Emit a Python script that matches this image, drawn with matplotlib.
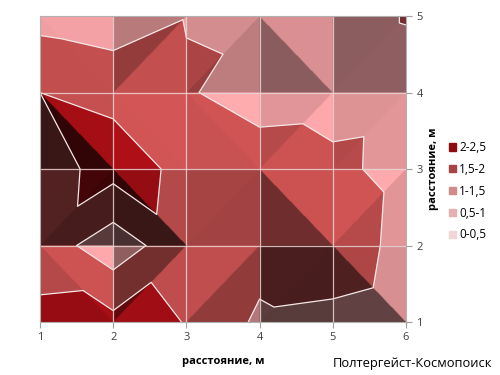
import numpy as np
import matplotlib
matplotlib.use('Agg')
import matplotlib.pyplot as plt
import matplotlib.tri as mtri

plt.rcParams['font.family'] = ['Open Sans', 'DejaVu Sans']

# grid of measured values (rows: y = 1..5, columns: x = 1..6)
x_vals = [1, 2, 3, 4, 5, 6]
y_vals = [1, 2, 3, 4, 5]
z_vals = [
    [2.11, 2.14, 1.99, 1.41, 1.34, 1.20],   # y = 1
    [1.80, 1.20, 1.87, 1.71, 1.87, 1.30],   # y = 2
    [1.77, 2.19, 1.90, 1.79, 1.61, 1.34],   # y = 3
    [2.00, 1.90, 1.55, 1.26, 1.30, 1.35],   # y = 4
    [1.33, 1.17, 1.48, 1.45, 1.30, 1.52],   # y = 5
]
band_levels = [0, 0.5, 1, 1.5, 2, 2.5]
band_labels = ['0-0,5', '0,5-1', '1-1,5', '1,5-2', '2-2,5']
band_colors = ['#f0d6d6', '#e6afb3', '#d08a8c', '#a84444', '#8c0c12']

X = np.array(x_vals, float)
Y = np.array(y_vals, float)
Z = np.array(z_vals, float)
ny, nx = Z.shape

# split every cell along the diagonal with the larger sum (like Excel does)
pts_x, pts_y = np.meshgrid(X, Y)
tris = []
for j in range(ny - 1):
    for i in range(nx - 1):
        a = j * nx + i
        b = a + 1
        c = a + nx
        d = c + 1
        if Z[j, i] + Z[j + 1, i + 1] >= Z[j, i + 1] + Z[j + 1, i]:
            tris += [[a, b, d], [a, d, c]]
        else:
            tris += [[a, b, c], [b, d, c]]
tri = mtri.Triangulation(pts_x.ravel(), pts_y.ravel(), np.array(tris))

# fine raster: value + facet lighting
fx = np.linspace(X[0], X[-1], 900)
fy = np.linspace(Y[0], Y[-1], 700)
FX, FY = np.meshgrid(fx, fy)
tid = tri.get_trifinder()(FX, FY)
tid[tid < 0] = 0
interp = mtri.LinearTriInterpolator(tri, Z.ravel())
FZ = interp(FX, FY).filled(Z.mean())

# plane slope per triangle
zr = Z.ravel()
gx = np.zeros(len(tris))
gy = np.zeros(len(tris))
for k, t in enumerate(tris):
    A = np.column_stack([pts_x.ravel()[t], pts_y.ravel()[t], np.ones(3)])
    cx, cy, _ = np.linalg.solve(A, zr[t])
    gx[k], gy[k] = cx, cy

S = 2.0
light = np.array([0.55, 0.55, 0.63])
light = light / np.linalg.norm(light)
nrm = np.stack([-S * gx, -S * gy, np.ones_like(gx)], axis=1)
nrm /= np.linalg.norm(nrm, axis=1)[:, None]
shade = 0.35 + 0.92 * np.clip(nrm @ light, 0, None)

band = np.clip(np.digitize(FZ, band_levels[1:-1]), 0, 4)
rgb_bands = np.array([matplotlib.colors.to_rgb(c) for c in band_colors])
img = np.clip(rgb_bands[band] * shade[tid][..., None], 0, 1)

fig = plt.figure(figsize=(5, 3.75), dpi=100)
ax = fig.add_axes([0.08, 0.1413, 0.732, 0.816])
ax.imshow(img, origin='lower', extent=[X[0], X[-1], Y[0], Y[-1]],
          aspect='auto', interpolation='bilinear')
ax.tricontour(tri, zr, levels=band_levels[1:-1], colors='#f6e8e8', linewidths=0.9)

for xv in X[1:-1]:
    ax.axvline(xv, color='#e8d4d4', lw=0.9, alpha=0.85)
for yv in Y[1:-1]:
    ax.axhline(yv, color='#e8d4d4', lw=0.9, alpha=0.85)

ax.set_xlim(X[0], X[-1])
ax.set_ylim(Y[0], Y[-1])
ax.set_xticks(X)
ax.set_yticks(Y)
ax.set_xticklabels([str(v) for v in x_vals])
ax.set_yticklabels([str(v) for v in y_vals])
ax.yaxis.tick_right()
ax.yaxis.set_label_position('right')
ax.tick_params(axis='both', colors='#a0a0a0', labelcolor='#404040',
               labelsize=8, length=4, width=0.8, direction='out')
for sp in ax.spines.values():
    sp.set_color('#b0b0b0')
    sp.set_linewidth(0.8)

ax.set_xlabel('расстояние, м', fontsize=8, fontweight='bold', labelpad=9)
ax.set_ylabel('расстояние, м', fontsize=8, fontweight='bold', labelpad=4)

# legend (highest band on top)
handles = [plt.Rectangle((0, 0), 1, 1, color=band_colors[k]) for k in range(4, -1, -1)]
fig.legend(handles, band_labels[::-1], loc='center left', bbox_to_anchor=(0.877, 0.49),
           frameon=False, fontsize=8.5, handlelength=0.6, handleheight=0.6,
           handletextpad=0.25, labelspacing=0.75)

fig.text(0.984, 0.032, 'Полтергейст-Космопоиск', ha='right', va='center', fontsize=9.3)

plt.savefig('out.png', dpi=100)
